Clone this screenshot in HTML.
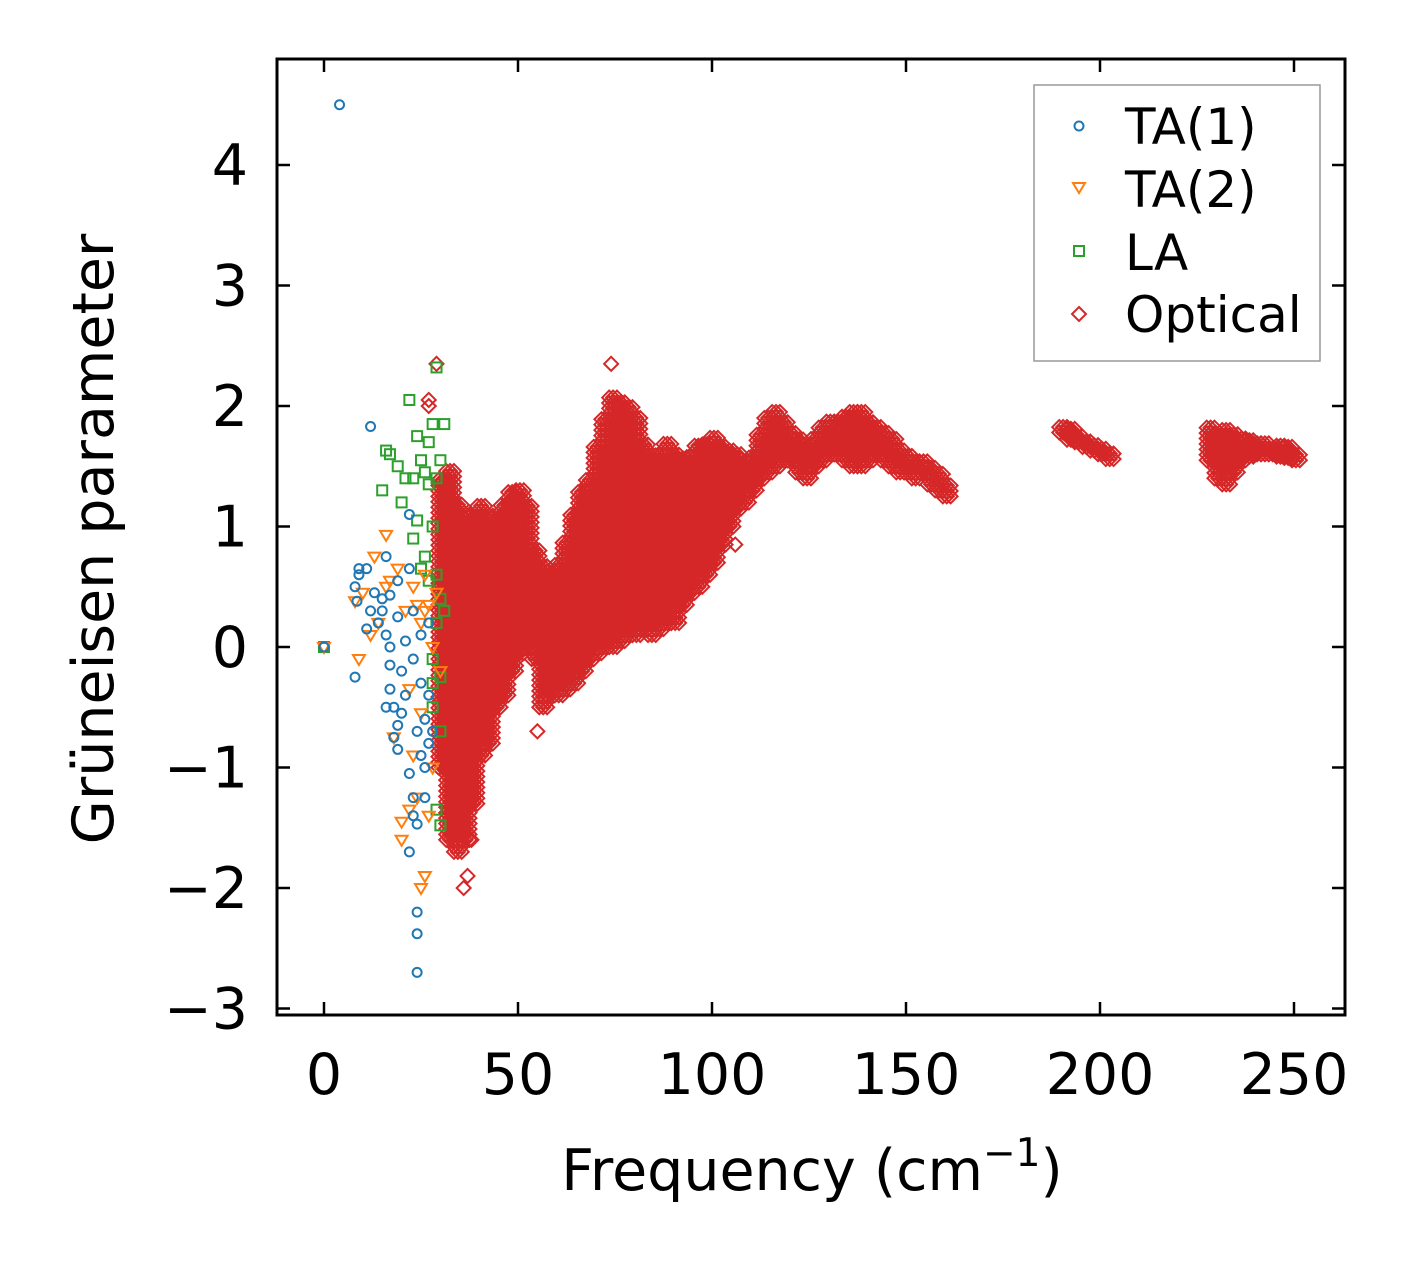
<!DOCTYPE html>
<html><head><meta charset="utf-8"><style>
html,body{margin:0;padding:0;background:#fff;}
svg{display:block;font-family:"DejaVu Sans","Liberation Sans",sans-serif;}
</style></head><body>
<svg id="chart" width="1410" height="1264" viewBox="0 0 1410 1264" xmlns="http://www.w3.org/2000/svg">
<rect width="1410" height="1264" fill="#fff"/>
<g id="marks"></g>
<g id="axes"></g>
<text transform="translate(113,539) rotate(-90)" text-anchor="middle" font-size="57">Grüneisen parameter</text>
<text x="812" y="1190" text-anchor="middle" font-size="57">Frequency (cm<tspan font-size="39" dy="-24">−1</tspan><tspan dy="24">)</tspan></text>
<g>
<rect x="1034" y="85" width="286" height="276" fill="#fff" stroke="#999" stroke-width="1.5"/>
<circle cx="1079" cy="126" r="4.5" fill="none" stroke="#1f77b4" stroke-width="2"/>
<text x="1125" y="144" font-size="50">TA(1)</text>
<path d="M1073,183 L1085,183 L1079,193 Z" fill="none" stroke="#ff7f0e" stroke-width="2"/>
<text x="1125" y="207" font-size="50">TA(2)</text>
<rect x="1074" y="246" width="10" height="10" fill="none" stroke="#2ca02c" stroke-width="2"/>
<text x="1125" y="270" font-size="50">LA</text>
<path d="M1079,307 L1086,314 L1079,321 L1072,314 Z" fill="none" stroke="#d62728" stroke-width="2"/>
<text x="1125" y="332" font-size="50">Optical</text>
</g>
</svg>
<script>
// ---- data ----
const xTicks = [0,50,100,150,200,250];
const yTicks = [-3,-2,-1,0,1,2,3,4];
const ta1Freq = [0,4,8,8,8.5,9,9,11,11,12,12,13,14,15,15,16,16,16,17,17,17,17,18,18,19,19,19,19,20,20,21,21,22,22,22,22,23,23,23,23,24,24,24,24,24,25,25,25,26,26,26,27,27,27,28];
const ta1Y = [0,4.5,-0.25,0.5,0.38,0.65,0.6,0.65,0.15,1.83,0.3,0.45,0.2,0.4,0.3,0.75,0.1,-0.5,-0.35,-0.15,0,0.43,-0.5,-0.75,-0.65,-0.85,0.25,0.55,-0.2,-0.55,0.05,-0.4,1.1,0.65,-1.05,-1.7,-1.4,-1.25,0.3,-0.1,-2.7,-2.38,-2.2,-0.7,-1.47,-0.9,-0.3,0.1,-1.0,-0.6,-1.25,-0.8,0.2,-0.4,-0.7];
const ta2Freq = [0,8,9,10,12,13,14,16,16,17,18,19,20,20,21,22,22,23,23,24,24,25,25,26,26,27,27,28,28,29,30,26,25];
const ta2Y = [0,0.38,-0.1,0.45,0.1,0.75,0.2,0.93,0.5,0.55,-0.75,0.65,-1.6,-1.45,0.3,-1.35,-0.35,0.5,-0.9,-1.25,0.35,-2.0,-0.55,-1.9,0.3,-1.4,0.35,0.0,-1.0,0.45,-0.2,0.6,0.2];
const laFreq = [0,15,16,17,19,20,21,22,23,23,24,24,25,25,26,26,27,27,27,28,28,28,28,29,29,29,29,30,30,30,30,31,31,30,29,28];
const laY = [0,1.3,1.63,1.6,1.5,1.2,1.4,2.05,0.9,1.4,1.05,1.75,1.55,0.65,1.45,0.75,1.7,1.35,0.55,1.85,1.0,-0.1,-0.5,2.32,1.4,0.6,-1.35,1.55,0.4,-0.25,-1.48,1.85,0.3,-0.7,0.2,-0.3];
const optOutFreq = [29,27,27,74,106,55,36,37,38];
const optOutY = [2.35,2.05,2.0,2.35,0.85,-0.7,-2.0,-1.9,-1.6];
const optBandFreq = [30,32,34,36,38,40,42,44,46,48,50,52,54,56,58,60,62,64,66,68,70,72,74,76,78,80,82,84,86,88,90,92,94,96,98,100,102,104,106,108,110,112,114,116,118,120,122,124,126,128,130,132,134,136,138,140,142,144,146,148,150,152,154,156,158,160,190,192,194,196,198,200,202,228,230,232,234,236,238,240,242,244,246,248,250];
const optBandLow = [-1.0,-1.6,-1.7,-1.6,-1.3,-0.9,-0.8,-0.5,-0.4,-0.2,-0.05,0.0,-0.1,-0.5,-0.4,-0.4,-0.35,-0.3,-0.2,-0.1,-0.05,0.0,0.0,0.05,0.1,0.1,0.15,0.1,0.15,0.2,0.2,0.35,0.45,0.5,0.6,0.7,0.85,1.0,1.15,1.2,1.3,1.4,1.45,1.5,1.55,1.55,1.45,1.4,1.5,1.55,1.6,1.6,1.55,1.5,1.5,1.55,1.6,1.55,1.5,1.45,1.45,1.4,1.45,1.35,1.3,1.25,1.78,1.72,1.7,1.66,1.63,1.6,1.56,1.55,1.4,1.35,1.45,1.55,1.58,1.6,1.6,1.6,1.58,1.57,1.55];
const optBandHigh = [1.4,1.5,1.2,1.1,1.1,1.2,1.1,1.0,1.2,1.3,1.3,1.2,0.8,0.7,0.6,0.7,0.9,1.1,1.3,1.4,1.7,1.9,2.1,2.05,2.0,1.9,1.7,1.6,1.6,1.7,1.6,1.6,1.6,1.7,1.7,1.75,1.7,1.65,1.6,1.5,1.6,1.8,1.9,1.95,1.9,1.8,1.75,1.7,1.75,1.85,1.9,1.9,1.95,1.95,1.95,1.9,1.85,1.8,1.75,1.65,1.6,1.55,1.55,1.5,1.45,1.35,1.85,1.82,1.78,1.74,1.7,1.66,1.62,1.85,1.8,1.8,1.8,1.75,1.72,1.72,1.7,1.68,1.68,1.66,1.62];

// ---- axes ----
const L=277,R=1345,T=59,B=1015;
const X = v => 324 + v*(1294-324)/250;
const Y = v => 647 - v*(647-165)/4;
const NS='http://www.w3.org/2000/svg';
const marks=document.getElementById('marks');
const axes=document.getElementById('axes');
function mk(tag,attrs,parent){const e=document.createElementNS(NS,tag);for(const k in attrs)e.setAttribute(k,attrs[k]);parent.appendChild(e);return e;}

const red='#d62728';
optBandFreq.forEach((f,i)=>{
  for(let y=optBandLow[i]; y<=optBandHigh[i]+1e-9; y+=0.045){
    for(const dx of [-0.5,0.5,1.5]){
      const cx=X(f+dx), cy=Y(y);
      const e=mk('path',{d:`M${cx},${cy-7}L${cx+7},${cy}L${cx},${cy+7}L${cx-7},${cy}Z`,fill:'none',stroke:red,'stroke-width':2},marks);
      
      
    }
  }
});
optOutFreq.forEach((f,i)=>{
  const cx=X(f),cy=Y(optOutY[i]);
  const e=mk('path',{d:`M${cx},${cy-7}L${cx+7},${cy}L${cx},${cy+7}L${cx-7},${cy}Z`,fill:'none',stroke:red,'stroke-width':2},marks);
  
  
});
laFreq.forEach((f,i)=>{
  const cx=X(f),cy=Y(laY[i]);
  const e=mk('rect',{x:cx-5,y:cy-5,width:10,height:10,fill:'none',stroke:'#2ca02c','stroke-width':2},marks);
  
  
});
ta2Freq.forEach((f,i)=>{
  const cx=X(f),cy=Y(ta2Y[i]);
  const e=mk('path',{d:`M${cx-6},${cy-4}L${cx+6},${cy-4}L${cx},${cy+6}Z`,fill:'none',stroke:'#ff7f0e','stroke-width':2},marks);
  
  
});
ta1Freq.forEach((f,i)=>{
  const e=mk('circle',{cx:X(f),cy:Y(ta1Y[i]),r:4.5,fill:'none',stroke:'#1f77b4','stroke-width':2},marks);
  
  
});

const fr=mk('rect',{x:L,y:T,width:R-L,height:B-T,fill:'none',stroke:'#000','stroke-width':3},axes);


xTicks.forEach(t=>{
  const x=X(t);
  mk('line',{x1:x,y1:B,x2:x,y2:B-13,stroke:'#000','stroke-width':2.5},axes);
  mk('line',{x1:x,y1:T,x2:x,y2:T+13,stroke:'#000','stroke-width':2.5},axes);
  const tx=mk('text',{x:x,y:1094,'text-anchor':'middle','font-size':57},axes);
  tx.textContent=String(t);
  
  
});
yTicks.forEach(t=>{
  const y=Y(t);
  mk('line',{x1:L,y1:y,x2:L+13,y2:y,stroke:'#000','stroke-width':2.5},axes);
  mk('line',{x1:R,y1:y,x2:R-13,y2:y,stroke:'#000','stroke-width':2.5},axes);
  const tx=mk('text',{x:248,y:y+20,'text-anchor':'end','font-size':57},axes);
  tx.textContent=(t<0?'−':'')+Math.abs(t);
  
  
});
</script>
</body></html>
